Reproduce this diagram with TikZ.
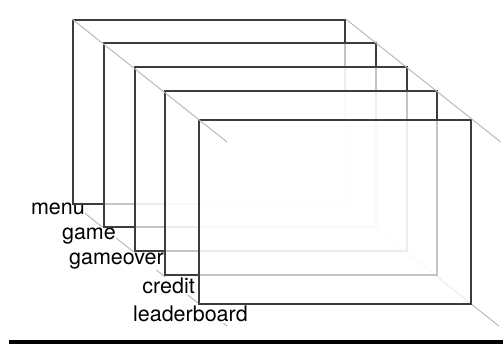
\documentclass[tikz,border=0pt]{standalone}
\usepackage{fontspec}
\setmainfont{TeX Gyre Heros}
\usetikzlibrary{calc}

\definecolor{framegray}{HTML}{3C3C3C}
\definecolor{guidegray}{HTML}{BABABA}

\tikzset{
	screen/.style={draw=framegray,line width=1.7pt,fill=white,fill opacity=0.7,
		draw opacity=1,anchor=north west,inner sep=0pt,
		minimum width=272pt,minimum height=184pt},
	guide/.style={guidegray,line width=1pt},
	screenlbl/.style={anchor=base east,fill=white,inner xsep=0pt,inner ysep=1pt,
		font=\fontsize{21.5}{24}\selectfont}
}

\begin{document}
\begin{tikzpicture}[x=1pt,y=-1pt]
	\useasboundingbox (0,0) rectangle (503,344);

	% corners of the back and front screens
	\coordinate (backnw) at (72,19);
	\coordinate (backne) at (345,19);
	\coordinate (backsw) at (72,203);
	\coordinate (backse) at (345,203);
	\coordinate (frontnw) at (198,119);
	\coordinate (frontne) at (470,119);
	\coordinate (frontsw) at (198,303);
	\coordinate (frontse) at (470,303);

	% guides behind the screens
	\draw[guide] (backse) -- ($(backse)!1.23!(frontse)$);
	\draw[guide] (backsw) -- ($(backsw)!1.23!(frontsw)$);

	% labels
	\node[screenlbl] (menulbl) at (85,214.5) {menu};
	\node[screenlbl] (gamelbl) at (116,240) {game};
	\node[screenlbl] (gameoverlbl) at (164,264.7) {gameover};
	\node[screenlbl] (creditlbl) at (195,293.3) {credit};
	\node[screenlbl] (leaderboardlbl) at (248,321.7) {leaderboard};

	% screens, back to front
	\node[screen] (menu) at (backnw) {};
	\node[screen] (game) at (103,42) {};
	\node[screen] (gameover) at (134,66) {};
	\node[screen] (credit) at (164,90) {};
	\node[screen] (leaderboard) at (frontnw) {};

	% guides in front
	\draw[guide] (menu.north west) -- ($(menu.north west)!1.23!(leaderboard.north west)$);
	\draw[guide] (menu.north east) -- ($(menu.north east)!1.23!(leaderboard.north east)$);

	% base line
	\draw[black,line width=3.5pt] (9,342) -- (503,342);

\end{tikzpicture}
\end{document}
